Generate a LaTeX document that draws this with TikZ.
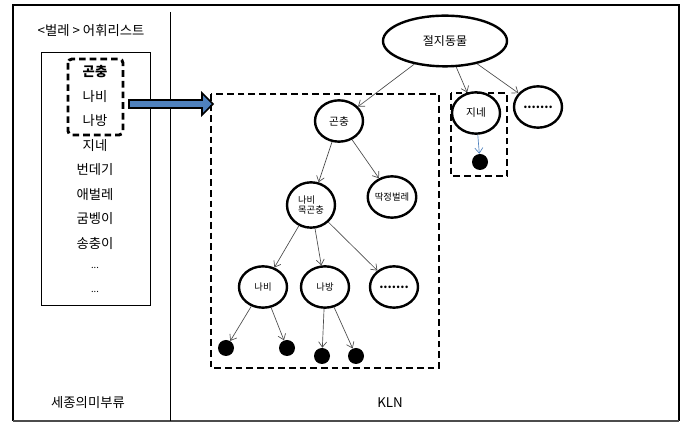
\documentclass[tikz,border=0pt]{standalone}
\usepackage{fontspec}
\setmainfont{Noto Sans CJK KR}
\usetikzlibrary{arrows.meta, shapes.geometric}
\definecolor{arrowblue}{RGB}{79, 129, 189}

\begin{document}
\begin{tikzpicture}[x=0.75pt, y=-0.75pt, font=\small, >={Straight Barb[length=4pt, width=6pt]},
  concept/.style={ellipse, draw, line width=1.8pt, minimum width=36pt, minimum height=31pt, inner sep=0pt, font=\scriptsize},
  leaf/.style={circle, fill=black, minimum size=12pt, inner sep=0pt},
  link/.style={->, draw=black!70, line width=0.5pt},
  group/.style={draw, line width=2.2pt, dash pattern=on 5pt off 3pt}]
  \useasboundingbox (0,0) rectangle (686,423);
  % Frame
  \draw[line width=2.2pt] (13,421) -- (13,5) -- (679,5) -- (679,421);
  \draw[line width=0.8pt, black!70] (13,421) -- (679,421);
  \draw[line width=0.5pt] (170,12) -- (170,421);

  % Word list
  \node[font=\normalsize] (title) at (91,30) {<벌레 > 어휘리스트};
  \draw[line width=0.6pt] (41,52) rectangle (150,305);
  \node[font=\normalsize\bfseries] (w1) at (95,72) {곤충};
  \foreach \w [count=\i from 2] in {나비, 나방, 지네, 번데기, 애벌레, 굼벵이, 송충이}{
    \node[font=\normalsize] (w\i) at (95,{72+24.5*(\i-1)}) {\w};
  }
  \node[font=\scriptsize] (w9) at (95,268) {...};
  \node[font=\scriptsize] (w10) at (95,292) {...};
  \draw[group, rounded corners=3pt] (68,59) rectangle (123,135);
  \fill[arrowblue, draw=black, line width=1.2pt] (129,100) -- (202,100) -- (202,93) -- (213,104)
       -- (202,115) -- (202,108) -- (129,108) -- cycle;

  % KLN
  \draw[group] (211,94) rectangle (439,368);
  \draw[group] (451,93) rectangle (507,176);
  \node[concept, minimum width=93pt, minimum height=38pt, font=\small] (arthropod) at (445,41) {절지동물};
  \node[concept, font=\footnotesize] (insect) at (339,121) {곤충};
  \node[concept, font=\footnotesize] (centipede) at (476,113) {지네};
  \node[concept, font=\small\bfseries] (more1) at (538,107) {.......};
  \node[concept] (beetle) at (392,197) {딱정벌레};
  \node[concept, minimum height=34pt, align=left] (lepid) at (311,205) {나비\\목곤충};
  \node[concept] (butterfly) at (263,287) {나비};
  \node[concept] (moth) at (325,287) {나방};
  \node[concept, font=\small\bfseries] (more2) at (394,287) {.......};
  \node[leaf] (c1) at (480,162) {};
  \node[leaf] (b1) at (226,348) {};
  \node[leaf] (b2) at (287,348) {};
  \node[leaf] (m1) at (322,356) {};
  \node[leaf] (m2) at (356,356) {};

  \draw[link] (arthropod) -- (insect);
  \draw[link] (arthropod) -- (centipede);
  \draw[link] (arthropod) -- (more1);
  \draw[link] (insect) -- (lepid);
  \draw[link] (insect) -- (beetle);
  \draw[link] (lepid) -- (butterfly);
  \draw[link] (lepid) -- (moth);
  \draw[link] (lepid) -- (more2);
  \draw[link] (butterfly) -- (b1);
  \draw[link] (butterfly) -- (b2);
  \draw[link] (moth) -- (m1);
  \draw[link] (moth) -- (m2);
  \draw[link, draw=arrowblue] (centipede) -- (c1);

  % Captions
  \node[font=\normalsize] (sejong) at (88,403) {세종의미부류};
  \node[font=\normalsize] (kln) at (390,403) {KLN};
\end{tikzpicture}
\end{document}
